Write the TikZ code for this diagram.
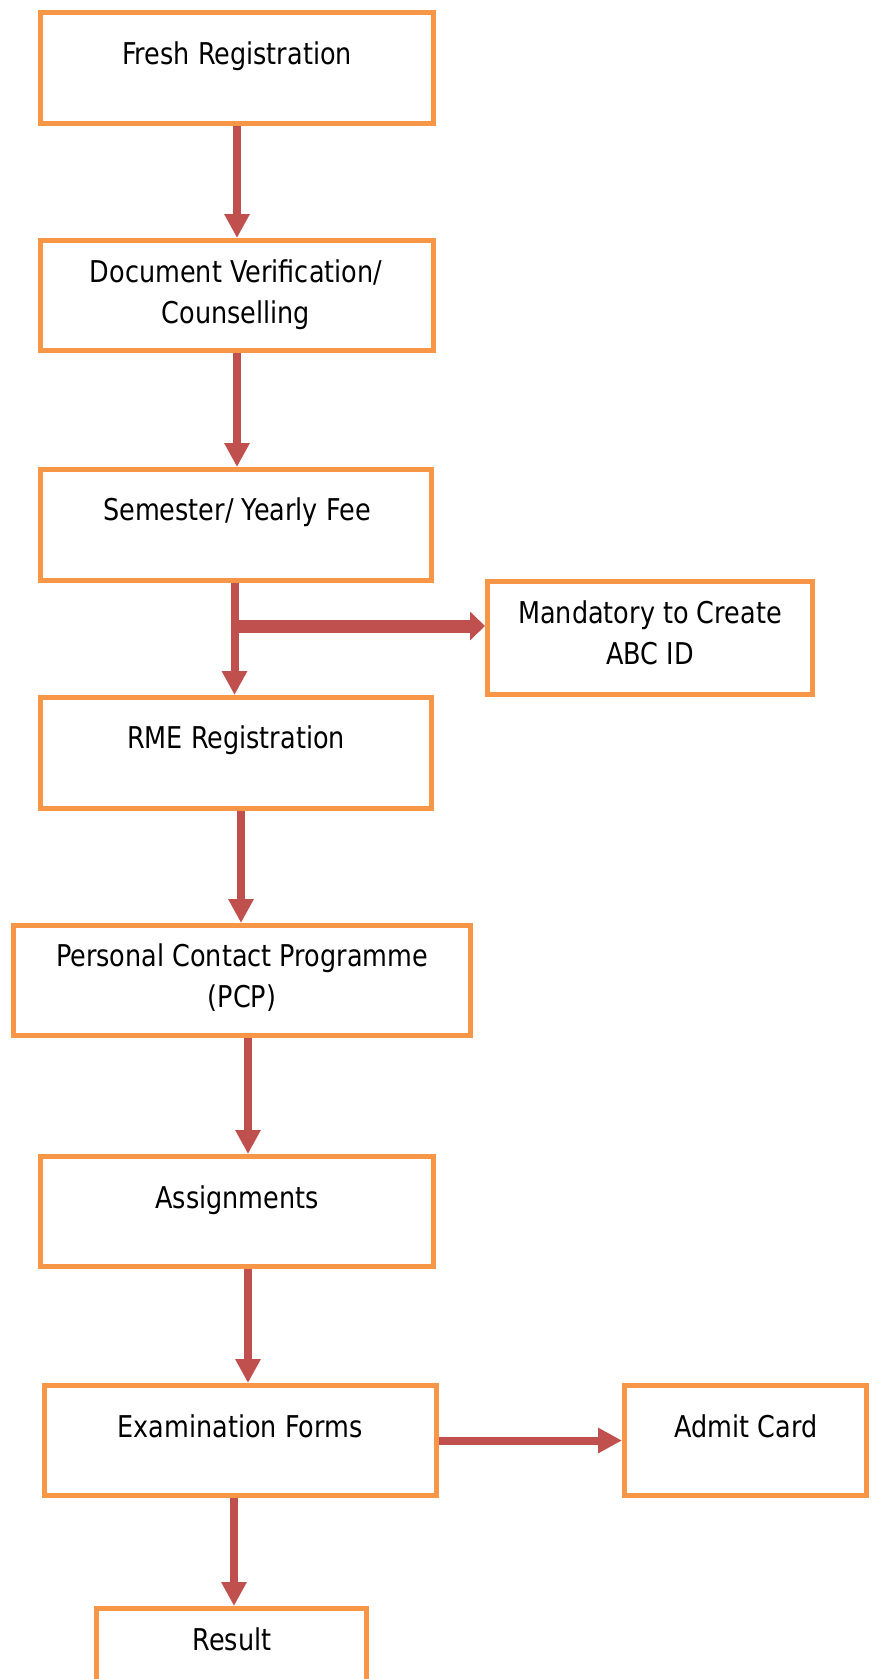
\documentclass[tikz,border=0pt]{standalone}
\usepackage{fontspec}
\setmainfont{DejaVu Sans}[FakeStretch=0.85]
\usetikzlibrary{arrows.meta}
\definecolor{boxorange}{HTML}{F79646}
\definecolor{arrowred}{HTML}{C0504D}
\begin{document}
\begin{tikzpicture}[x=1pt,y=-1pt,
  flowbox/.style={draw=boxorange, line width=5pt, fill=white, inner sep=0pt},
  boxtext/.style={anchor=base, align=center, inner sep=0pt, font=\fontsize{30pt}{41pt}\selectfont},
  flowarrow/.style={draw=arrowred, line width=8pt, -{Triangle[width=24pt,length=24pt]}},
  bigarrow/.style={draw=arrowred, line width=13pt, -{Triangle[width=28pt,length=15pt]}}]
\useasboundingbox (0,0) rectangle (872,1679);
\clip (0,0) rectangle (872,1679);
% boxes
\node[flowbox, minimum width=393pt, minimum height=111pt] (fresh)  at (237,68) {};
\node[flowbox, minimum width=393pt, minimum height=110pt] (doc)    at (237,295.5) {};
\node[flowbox, minimum width=391pt, minimum height=111pt] (sem)    at (236,525) {};
\node[flowbox, minimum width=325pt, minimum height=113pt] (mand)   at (650,638) {};
\node[flowbox, minimum width=391pt, minimum height=111pt] (rme)    at (236,753) {};
\node[flowbox, minimum width=457pt, minimum height=110pt] (pcp)    at (242,980.5) {};
\node[flowbox, minimum width=393pt, minimum height=110pt] (assign) at (237,1211.5) {};
\node[flowbox, minimum width=392pt, minimum height=110pt] (exam)   at (240.5,1440.5) {};
\node[flowbox, minimum width=242pt, minimum height=110pt] (admit)  at (745.5,1440.5) {};
\node[flowbox, minimum width=270pt, minimum height=111pt] (result) at (231.5,1664) {};
% texts (anchor base = baseline of the last line)
\node[boxtext] (freshT)  at (237,64)   {Fresh Registration};
\node[boxtext] (docT)    at (236,323)  {Document Verification/\\Counselling};
\node[boxtext] (semT)    at (237,520)  {Semester/ Yearly Fee};
\node[boxtext] (mandT)   at (650,664)  {Mandatory to Create\\ABC ID};
\node[boxtext] (rmeT)    at (236,748)  {RME Registration};
\node[boxtext] (pcpT)    at (242,1007) {Personal Contact Programme\\(PCP)};
\node[boxtext] (assignT) at (237,1208) {Assignments};
\node[boxtext] (examT)   at (240,1437) {Examination Forms};
\node[boxtext] (admitT)  at (746,1437) {Admit Card};
\node[boxtext] (resultT) at (232,1650) {Result};
% connectors
\coordinate (br) at (231,626);
\draw[flowarrow] (fresh.south) -- (doc.north);
\draw[flowarrow] (doc.south) -- (doc.south |- sem.north);
\draw[flowarrow] ([xshift=-1.5pt]sem.south) -- ([xshift=-1.5pt]rme.north);
\draw[bigarrow] (br) -- ([yshift=12pt]mand.west);
\draw[flowarrow] ([xshift=5pt]rme.south) -- ([xshift=-1pt]pcp.north);
\draw[flowarrow] ([xshift=6pt]pcp.south) -- ([xshift=11pt]assign.north);
\draw[flowarrow] ([xshift=11pt]assign.south) -- ([xshift=7.5pt]exam.north);
\draw[flowarrow] (exam.east) -- (admit.west);
\draw[flowarrow] ([xshift=-6.5pt]exam.south) -- ([xshift=2.5pt]result.north);
\end{tikzpicture}
\end{document}
